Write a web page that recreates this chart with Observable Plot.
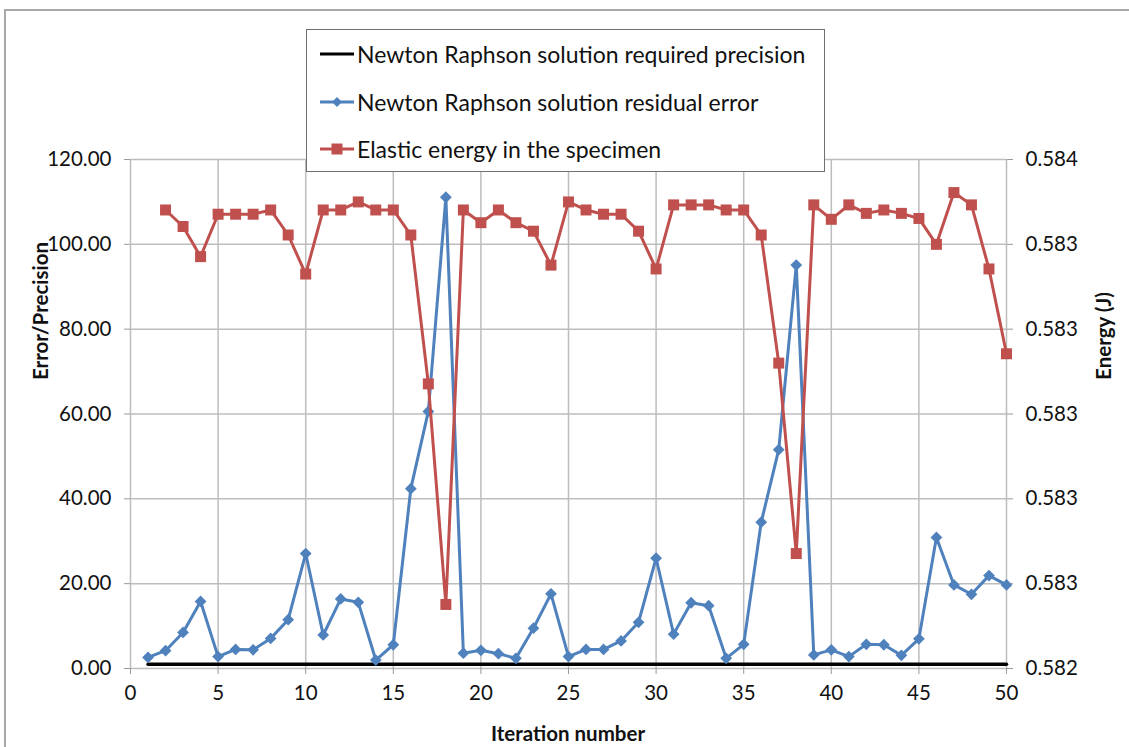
<!DOCTYPE html>
<html><head><meta charset="utf-8">
<script src="https://cdn.jsdelivr.net/npm/d3@7"></script>
<script src="https://cdn.jsdelivr.net/npm/@observablehq/plot@0.6"></script>
<style>
body{margin:0;background:#fff;font-family:Lato,"Open Sans",sans-serif;color:#111;}
#wrap{position:relative;width:1129px;height:747px;overflow:hidden;background:#fff;}
#border{position:absolute;left:4px;top:9px;width:1140px;height:760px;border-left:2px solid #a9a9a9;border-top:2px solid #a9a9a9;}
#chart{position:absolute;left:0;top:0;}
.title{position:absolute;font-weight:bold;font-size:20.5px;white-space:nowrap;transform:translate(-50%,-50%);}
.rot{transform:translate(-50%,-50%) rotate(-90deg);}
#legend{position:absolute;left:306px;top:29px;width:519px;height:143px;border:1.5px solid #707070;background:#fff;box-sizing:border-box;}
.item{position:absolute;left:13px;height:32px;display:flex;align-items:center;font-size:23px;white-space:nowrap;transform:translateY(-50%);}
.item svg{margin-right:3px;}
</style></head><body>
<div id="wrap">
<div id="border"></div>
<div id="chart"></div>
<div class="title rot" style="left:40px;top:311px;">Error/Precision</div>
<div class="title rot" style="left:1103px;top:336px;">Energy (J)</div>
<div class="title" style="left:568px;top:733px;">Iteration number</div>
<div id="legend"></div>
</div>
<script>
// ---- data ----
const iterations = [1,2,3,4,5,6,7,8,9,10,11,12,13,14,15,16,17,18,19,20,21,22,23,24,25,26,27,28,29,30,31,32,33,34,35,36,37,38,39,40,41,42,43,44,45,46,47,48,49,50];
const residualError = [2.6,4.2,8.5,15.8,2.8,4.5,4.4,7.1,11.5,27.1,7.9,16.4,15.6,2.0,5.6,42.4,60.6,111.1,3.6,4.3,3.5,2.4,9.5,17.6,2.8,4.5,4.5,6.5,10.9,26.0,8.1,15.5,14.8,2.4,5.7,34.5,51.6,95.1,3.2,4.4,2.8,5.7,5.6,3.1,7.0,30.9,19.7,17.5,21.9,19.7];
const elasticEnergy = [null,0.583481,0.583442,0.583371,0.583471,0.583471,0.583471,0.583481,0.583422,0.583330,0.583481,0.583481,0.583500,0.583481,0.583481,0.583422,0.583071,0.582551,0.583481,0.583451,0.583481,0.583451,0.583431,0.583351,0.583500,0.583481,0.583471,0.583471,0.583431,0.583342,0.583493,0.583493,0.583493,0.583481,0.583481,0.583422,0.583120,0.582671,0.583493,0.583459,0.583493,0.583473,0.583481,0.583473,0.583461,0.583400,0.583522,0.583493,0.583342,0.583142];
const requiredPrecision = 1;
const xTicks = [0,5,10,15,20,25,30,35,40,45,50];
const yTicks = [0,20,40,60,80,100,120];
const energyMin = 0.5824, energyMax = 0.5836;
const seriesNames = ["Newton Raphson solution required precision","Newton Raphson solution residual error","Elastic energy in the specimen"];
const colors = ["#000000","#4F81BD","#C0504D"];

// ---- build ----
const yMax = 120;
const toLeft = e => (e - energyMin) / (energyMax - energyMin) * yMax;
const rows = iterations.map((it, i) => ({it, err: residualError[i], energy: elasticEnergy[i], prec: requiredPrecision}));
const energyRows = rows.filter(d => d.energy != null);

const plot = Plot.plot({
  width: 1129, height: 747,
  marginLeft: 130, marginRight: 123, marginTop: 159, marginBottom: 79,
  style: {fontFamily: "Lato, 'Open Sans', sans-serif", fontSize: "20.5px", color: "#111", background: "transparent"},
  x: {domain: [0, 50]},
  y: {domain: [0, yMax]},
  marks: [
    Plot.gridX(xTicks, {stroke: "#bdbdbd", strokeOpacity: 1, strokeWidth: 1.5}),
    Plot.gridY(yTicks, {stroke: "#bdbdbd", strokeOpacity: 1, strokeWidth: 1.5}),
    Plot.axisX(xTicks, {tickSize: 6, tickPadding: 11, stroke: "#9a9a9a", fill: "#111", label: null, tickFormat: d => d}),
    Plot.axisY(yTicks, {anchor: "left", tickSize: 6, tickPadding: 13, stroke: "#9a9a9a", fill: "#111", label: null, tickFormat: d3.format(".2f")}),
    Plot.axisY(yTicks, {anchor: "right", tickSize: 6, tickPadding: 13, stroke: "#9a9a9a", fill: "#111", label: null,
      tickFormat: d => d3.format(".3f")(energyMin + d / yMax * (energyMax - energyMin))}),
    Plot.line(rows, {x: "it", y: "prec", stroke: colors[0], strokeWidth: 3.5}),
    Plot.line(rows, {x: "it", y: "err", stroke: colors[1], strokeWidth: 3}),
    Plot.dot(rows, {x: "it", y: "err", symbol: "diamond2", r: 5.3, fill: colors[1], stroke: null}),
    Plot.line(energyRows, {x: "it", y: d => toLeft(d.energy), stroke: colors[2], strokeWidth: 3}),
    Plot.dot(energyRows, {x: "it", y: d => toLeft(d.energy), symbol: "square", r: 6.2, fill: colors[2], stroke: null})
  ]
});
document.getElementById("chart").appendChild(plot);

// ---- legend ----
const legend = document.getElementById("legend");
const rowsY = [24, 72, 119];
seriesNames.forEach((name, i) => {
  const div = document.createElement("div");
  div.className = "item";
  div.style.top = rowsY[i] + "px";
  let marker = "";
  if (i === 1) marker = `<path d="M17 2 L22 7 L17 12 L12 7 Z" fill="${colors[1]}"/>`;
  if (i === 2) marker = `<rect x="11.5" y="1.5" width="11" height="11" fill="${colors[2]}"/>`;
  div.innerHTML = `<svg width="34" height="14"><line x1="0" y1="7" x2="34" y2="7" stroke="${colors[i]}" stroke-width="3"/>${marker}</svg><span>${name}</span>`;
  legend.appendChild(div);
});
</script>
</body></html>
